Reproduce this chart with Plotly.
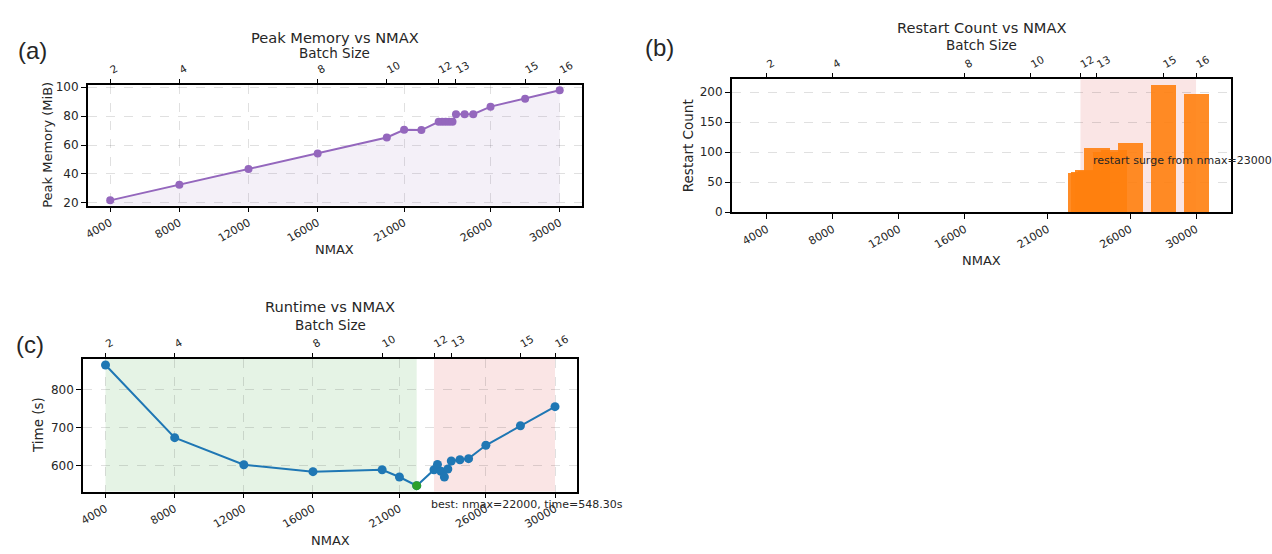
import plotly.graph_objects as go

# ---------------- data ----------------
nmax = [4000, 8000, 12000, 16000, 20000, 21000, 22000, 23000, 23200, 23400,
        23600, 23800, 24000, 24500, 25000, 26000, 28000, 30000]
peak_mem = [21.8, 32.6, 43.4, 54.2, 65.2, 70.5, 70.3, 76.0, 76.0, 76.0,
            76.0, 76.0, 81.3, 81.3, 81.3, 86.5, 91.9, 97.8]
restarts = [0, 0, 0, 0, 0, 0, 0, 64, 67, 69,
            68, 66, 107, 100, 103, 114.5, 211, 197]
runtime = [864, 674, 603, 585, 590, 571, 548.3, 590, 604, 586,
           571, 592, 613, 616, 619, 654, 705, 755]

xtick_vals = [4000, 8000, 12000, 16000, 21000, 26000, 30000]
batch_pos = [4000, 8000, 16000, 20000, 23000, 24000, 28000, 30000]
batch_lbl = ["2", "4", "8", "10", "12", "13", "15", "16"]

surge_start = 23000
surge_end = 30000
best_i = min(range(len(runtime)), key=lambda i: runtime[i])
best_n, best_t = nmax[best_i], runtime[best_i]

W, H = 1272, 554
def px(x): return x / W
def py(y): return 1 - y / H

FONT = "DejaVu Sans"
TXT = "#262626"
GRID = "rgba(0,0,0,0.12)"

fig = go.Figure()

# (a) peak memory
fig.add_trace(go.Scatter(x=nmax, y=peak_mem, mode="lines+markers",
                         line=dict(color="#9467bd", width=2),
                         marker=dict(color="#9467bd", size=8),
                         fill="tozeroy", fillcolor="rgba(148,103,189,0.10)",
                         xaxis="x", yaxis="y", hoverinfo="skip"))
# (b) restart bars
fig.add_trace(go.Bar(x=nmax, y=restarts, width=[1550] * len(nmax),
                     marker=dict(color="#ff7f0e", opacity=0.9, line=dict(width=0)),
                     xaxis="x2", yaxis="y2", hoverinfo="skip"))
# (c) runtime
fig.add_trace(go.Scatter(x=nmax, y=runtime, mode="lines+markers",
                         line=dict(color="#1f77b4", width=2),
                         marker=dict(color="#1f77b4", size=9),
                         xaxis="x3", yaxis="y3", hoverinfo="skip"))
fig.add_trace(go.Scatter(x=[best_n], y=[best_t], mode="markers",
                         marker=dict(color="#2ca02c", size=9),
                         xaxis="x3", yaxis="y3", hoverinfo="skip"))
# dummy traces for the top (batch size) axes
for xa, ya in (("x4", "y"), ("x5", "y2"), ("x6", "y3")):
    fig.add_trace(go.Scatter(x=[nmax[0]], y=[None], mode="markers",
                             marker=dict(opacity=0), xaxis=xa, yaxis=ya,
                             hoverinfo="skip"))

def xbottom(domain, rng, anchor, grid):
    return dict(domain=domain, range=rng, anchor=anchor,
                tickvals=xtick_vals, ticktext=[str(v) for v in xtick_vals],
                tickangle=-30, ticks="outside", ticklen=5, tickwidth=1.2,
                tickcolor="black", showline=True, linecolor="black",
                linewidth=1.5, mirror=True, showgrid=grid, gridcolor=GRID,
                griddash="dash", gridwidth=0.8, zeroline=False,
                tickfont=dict(size=11, color=TXT, family=FONT))

def xtop(over, rng, anchor):
    return dict(overlaying=over, side="top", anchor=anchor, range=rng,
                tickvals=batch_pos, ticktext=batch_lbl, tickangle=-30,
                ticks="outside", ticklen=5, tickwidth=1.2, tickcolor="black",
                showline=False, showgrid=False, zeroline=False,
                tickfont=dict(size=10.5, color=TXT, family=FONT))

def yax(domain, rng, anchor, vals):
    return dict(domain=domain, range=rng, anchor=anchor, tickvals=vals,
                ticks="outside", ticklen=5, tickwidth=1.2, tickcolor="black",
                showline=True, linecolor="black", linewidth=1.5, mirror=True,
                showgrid=True, gridcolor=GRID, griddash="dash", gridwidth=0.8,
                zeroline=False, tickfont=dict(size=12, color=TXT, family=FONT))

dom_a_x = [px(84), px(580)];    dom_a_y = [py(205), py(81.7)]
dom_b_x = [px(730), px(1231)];  dom_b_y = [py(211.7), py(76)]
dom_c_x = [px(79.3), px(575.3)]; dom_c_y = [py(497.3), py(361.7)]

rng_ac = [2700, 31300]
rng_b = [1875, 32125]

fig.update_layout(
    width=W, height=H, margin=dict(l=0, r=0, t=0, b=0), autosize=False,
    paper_bgcolor="white", plot_bgcolor="white", showlegend=False,
    font=dict(family=FONT, color=TXT), bargap=0,
    xaxis=xbottom(dom_a_x, rng_ac, "y", True),
    yaxis=yax(dom_a_y, [18.2, 101.5], "x", [20, 40, 60, 80, 100]),
    xaxis2=xbottom(dom_b_x, rng_b, "y2", False),
    yaxis2=yax(dom_b_y, [0, 221.5], "x2", [0, 50, 100, 150, 200]),
    xaxis3=xbottom(dom_c_x, rng_ac, "y3", True),
    yaxis3=yax(dom_c_y, [533, 880], "x3", [600, 700, 800]),
    xaxis4=xtop("x", rng_ac, "y"),
    xaxis5=xtop("x2", rng_b, "y2"),
    xaxis6=xtop("x3", rng_ac, "y3"),
)

# shaded regions
fig.add_shape(type="rect", xref="x2", yref="y2 domain", x0=surge_start, x1=surge_end,
              y0=0, y1=1, fillcolor="rgba(214,39,40,0.12)", line=dict(width=0),
              layer="below")
fig.add_shape(type="rect", xref="x3", yref="y3 domain", x0=nmax[0], x1=best_n,
              y0=0, y1=1, fillcolor="rgba(44,160,44,0.12)", line=dict(width=0),
              layer="below")
fig.add_shape(type="rect", xref="x3", yref="y3 domain", x0=surge_start, x1=surge_end,
              y0=0, y1=1, fillcolor="rgba(214,39,40,0.12)", line=dict(width=0),
              layer="below")

ann = []
def text(x, y, s, size, xanchor="center", angle=0, family=FONT, xref="paper", yref="paper"):
    ann.append(dict(x=x, y=y, xref=xref, yref=yref, text=s, showarrow=False,
                    xanchor=xanchor, yanchor="middle", textangle=angle,
                    font=dict(size=size, family=family, color=TXT)))

# titles
text(px(332), py(33), "Peak Memory vs NMAX", 14.6)
text(px(332), py(49.5), "Batch Size", 13.5)
text(px(980.5), py(22.5), "Restart Count vs NMAX", 14.6)
text(px(980.5), py(41), "Batch Size", 13.5)
text(px(327.3), py(308), "Runtime vs NMAX", 14.6)
text(px(327.3), py(327.5), "Batch Size", 13.5)
# axis titles
text(px(332), py(250), "NMAX", 13)
text(px(44), py(143), "Peak Memory (MiB)", 13, angle=-90)
text(px(980.5), py(261), "NMAX", 13)
text(px(686.5), py(144), "Restart Count", 13.5, angle=-90)
text(px(327.3), py(547), "NMAX", 13)
text(px(34), py(429.5), "Time (s)", 13.5, angle=-90)
# panel labels
text(px(12), py(47), "(a)", 24, xanchor="left", family="Liberation Sans")
text(px(641), py(43), "(b)", 24, xanchor="left", family="Liberation Sans")
text(px(10), py(347), "(c)", 24, xanchor="left", family="Liberation Sans")
# notes
text(surge_start + 620, 86, "restart surge from nmax=%d" % surge_start, 11,
     xanchor="left", xref="x2", yref="y2")
text(best_n + 710, py(510.7), "best: nmax=%d, time=%.2fs" % (best_n, best_t), 11,
     xanchor="left", xref="x3", yref="paper")

fig.update_layout(annotations=ann)
fig.write_html("out.html")
